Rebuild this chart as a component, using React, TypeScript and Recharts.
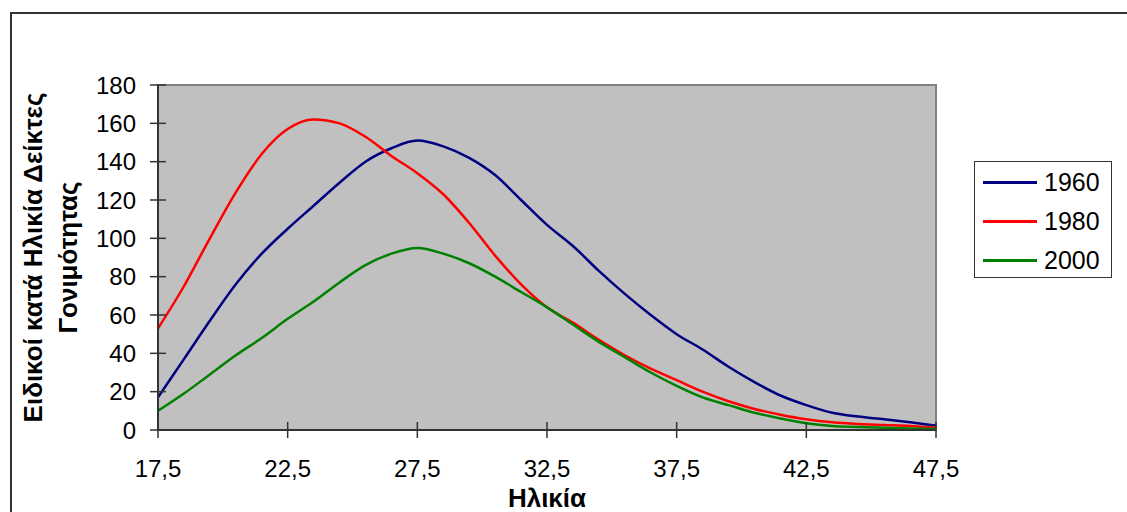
import React from 'react';
import { LineChart, Line, XAxis, YAxis, ReferenceArea, Legend } from 'recharts';

// ages (x axis), one point per year
const ages = [
  17.5, 18.5, 19.5, 20.5, 21.5, 22.5, 23.5, 24.5, 25.5, 26.5, 27.5,
  28.5, 29.5, 30.5, 31.5, 32.5, 33.5, 34.5, 35.5, 36.5, 37.5,
  38.5, 39.5, 40.5, 41.5, 42.5, 43.5, 44.5, 45.5, 46.5, 47.5,
];

const rates1960 = [
  17, 37, 57, 76, 92, 105, 117, 129, 140, 147, 151,
  148, 142, 133, 120, 107, 96, 83, 71, 60, 50,
  42, 33, 25, 18, 13, 9, 7, 5.6, 4, 2.3,
];

const rates1980 = [
  53, 75, 100, 124, 144, 157, 162, 160, 153, 143, 134,
  123, 108, 91, 76, 64, 56, 47, 39, 32, 26,
  20, 15, 11, 8, 5.6, 4, 3.1, 2.6, 2.1, 1.2,
];

const rates2000 = [
  10, 19, 29, 39, 48, 58, 67, 77, 86, 92, 95,
  92, 87, 80, 72, 64, 55, 46, 38, 30, 23,
  17, 13, 9, 6, 3.5, 2.1, 1.6, 1.2, 0.8, 0.5,
];

const xTicks = [17.5, 22.5, 27.5, 32.5, 37.5, 42.5, 47.5];
const yTicks = [0, 20, 40, 60, 80, 100, 120, 140, 160, 180];

const data = ages.map((age, i) => ({
  age,
  y1960: rates1960[i],
  y1980: rates1980[i],
  y2000: rates2000[i],
}));

const FONT = '"Liberation Sans", Arial, sans-serif';

const YTick = ({ x, y, payload }: any) => (
  <g>
    <line x1={x - 8} x2={x + 8} y1={y} y2={y} stroke="#333" strokeWidth={1.5} />
    <text x={x - 22} y={y} dy="0.36em" textAnchor="end" fontSize={24} fontFamily={FONT} fill="#000">
      {payload.value}
    </text>
  </g>
);

const XTick = ({ x, y, payload }: any) => (
  <g>
    <line x1={x} x2={x} y1={y - 8} y2={y + 8} stroke="#333" strokeWidth={1.5} />
    <text x={x} y={y + 47} textAnchor="middle" fontSize={24} fontFamily={FONT} fill="#000">
      {String(payload.value).replace('.', ',')}
    </text>
  </g>
);

const YTitle = ({ viewBox }: any) => {
  const cy = viewBox.y + viewBox.height / 2;
  return (
    <g fontFamily={FONT} fontSize={26} fontWeight="bold" fill="#000">
      <text x={42} y={cy} textAnchor="middle" transform={`rotate(-90, 42, ${cy})`}>
        Ειδικοί κατά Ηλικία Δείκτες
      </text>
      <text x={77} y={cy} textAnchor="middle" transform={`rotate(-90, 77, ${cy})`}>
        Γονιμότητας
      </text>
    </g>
  );
};

const XTitle = ({ viewBox }: any) => (
  <text
    x={viewBox.x + viewBox.width / 2}
    y={viewBox.y + 77}
    textAnchor="middle"
    fontFamily={FONT}
    fontSize={26}
    fontWeight="bold"
    fill="#000"
  >
    Ηλικία
  </text>
);

const LegendBox = ({ payload }: any) => (
  <div
    style={{
      width: 138,
      height: 117,
      boxSizing: 'border-box',
      border: '1px solid #333',
      background: '#fff',
      position: 'relative',
      fontFamily: FONT,
      fontSize: 25,
      color: '#000',
    }}
  >
    {(payload || []).map((entry: any, i: number) => (
      <div key={entry.value} style={{ position: 'absolute', left: 0, top: 20 + i * 39 - 15, height: 30, width: 138 }}>
        <div style={{ position: 'absolute', left: 8, top: 14, width: 54, height: 3, background: entry.color }} />
        <div style={{ position: 'absolute', left: 69, top: 0, lineHeight: '30px' }}>{entry.value}</div>
      </div>
    ))}
  </div>
);

export default function App() {
  return (
    <div style={{ position: 'absolute', left: 0, top: 0, width: 1127, height: 512, overflow: 'hidden', background: '#fff' }}>
      <div
        style={{
          position: 'absolute',
          left: 10,
          top: 12,
          width: 1300,
          height: 700,
          border: '2px solid #333',
        }}
      />
      <div style={{ position: 'absolute', left: 0, top: 0 }}>
        <LineChart width={1127} height={512} data={data} margin={{ top: 85, right: 191, bottom: 22, left: 58 }}>
          <ReferenceArea x1={17.5} x2={47.5} y1={0} y2={180} fill="#C0C0C0" fillOpacity={1} stroke="#808080" strokeWidth={2} />
          <XAxis
            dataKey="age"
            type="number"
            domain={[17.5, 47.5]}
            ticks={xTicks}
            height={60}
            tickSize={0}
            tickMargin={0}
            tick={<XTick />}
            axisLine={{ stroke: '#333', strokeWidth: 2 }}
            interval={0}
            label={<XTitle />}
          />
          <YAxis
            type="number"
            domain={[0, 180]}
            ticks={yTicks}
            width={100}
            tickSize={0}
            tickMargin={0}
            tick={<YTick />}
            axisLine={{ stroke: '#333', strokeWidth: 2 }}
            interval={0}
            label={<YTitle />}
          />
          <Legend
            layout="vertical"
            align="center"
            verticalAlign="middle"
            wrapperStyle={{ left: 974, top: 161, width: 138, height: 117 }}
            content={<LegendBox />}
          />
          <Line type="monotone" dataKey="y1960" name="1960" stroke="#000080" strokeWidth={2.5} dot={false} isAnimationActive={false} />
          <Line type="monotone" dataKey="y1980" name="1980" stroke="#FF0000" strokeWidth={2.5} dot={false} isAnimationActive={false} />
          <Line type="monotone" dataKey="y2000" name="2000" stroke="#008000" strokeWidth={2.5} dot={false} isAnimationActive={false} />
        </LineChart>
      </div>
    </div>
  );
}
